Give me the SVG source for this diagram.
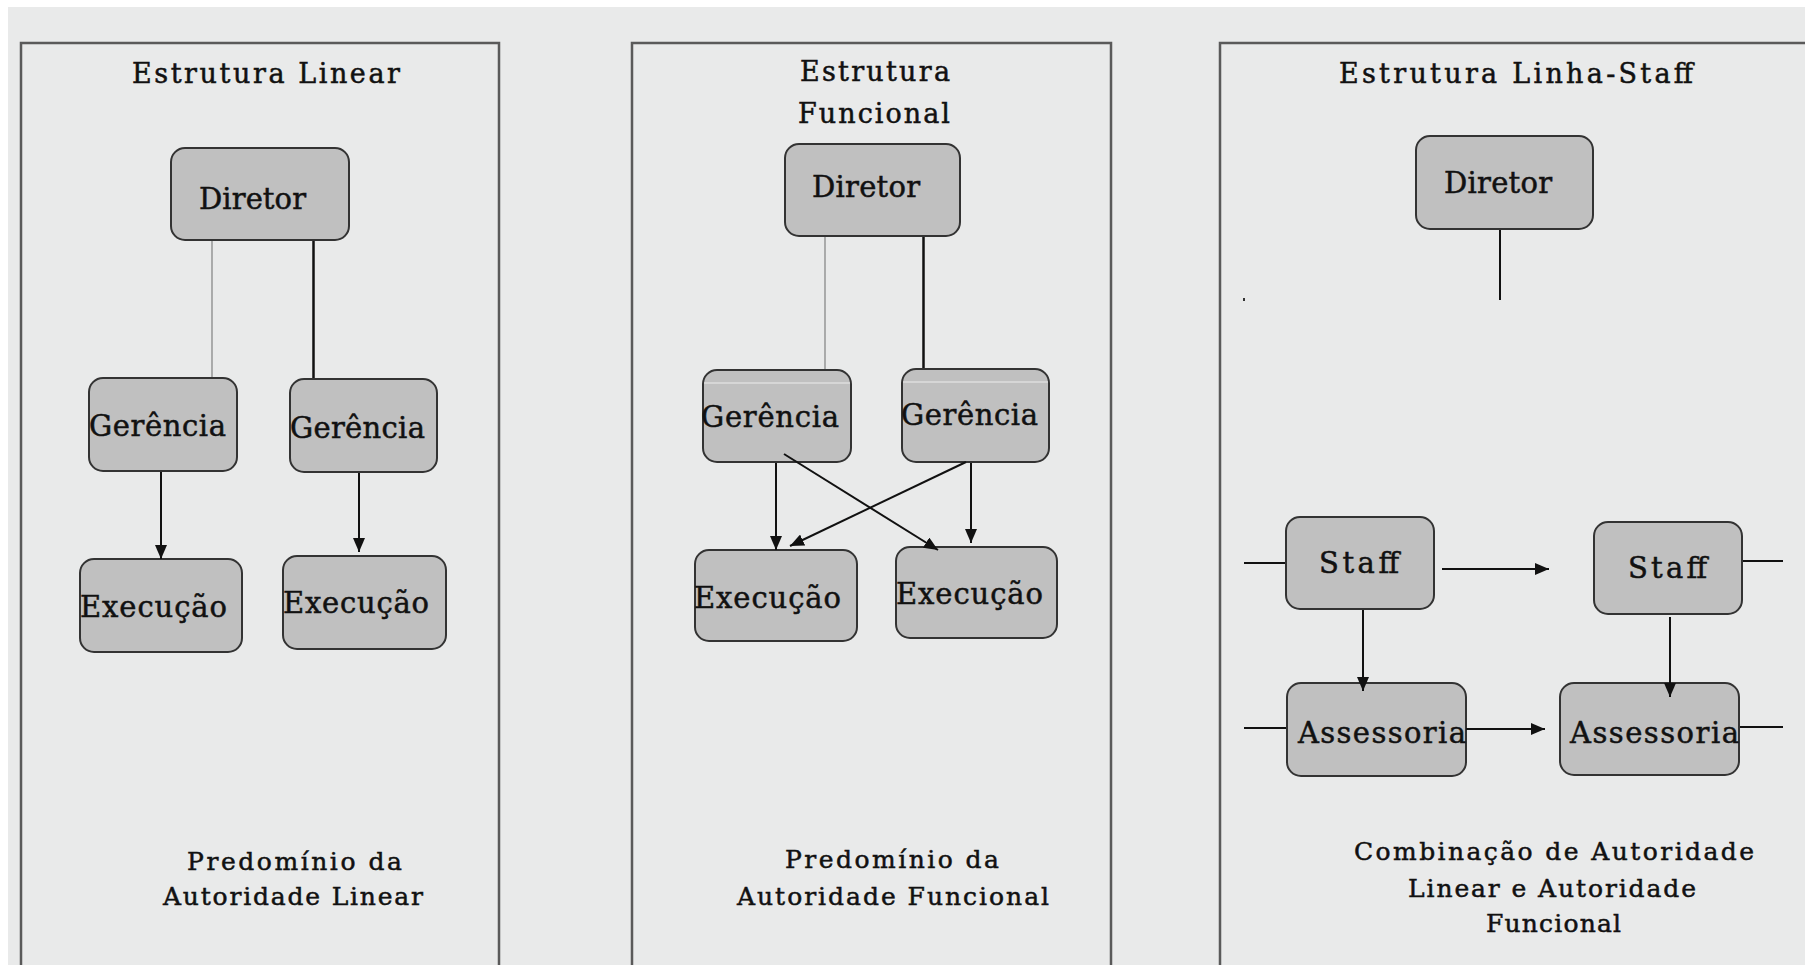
<svg xmlns="http://www.w3.org/2000/svg" width="1805" height="965" viewBox="0 0 1805 965">
<defs>
<marker id="ah" markerUnits="userSpaceOnUse" markerWidth="14" markerHeight="12" refX="14" refY="6" orient="auto">
<path d="M0,0 L14,6 L0,12 z" fill="#111"/>
</marker>
<style>
.frame{fill:none;stroke:#5a5a5a;stroke-width:2.5}
.box{fill:#c0c0c0;stroke:#333;stroke-width:2}
.t{font-family:"DejaVu Serif","Liberation Serif",serif;fill:#111;stroke:#111;stroke-width:0.5}
.title{font-size:27px}
.lab{font-size:29px}
.note{font-size:25px}
.thin{stroke:#888;stroke-width:1.3;fill:none}
.thick{stroke:#111;stroke-width:2.5;fill:none}
.arr{stroke:#111;stroke-width:2;fill:none;marker-end:url(#ah)}
.ln{stroke:#111;stroke-width:2;fill:none}
</style>
</defs>
<rect x="0" y="0" width="1805" height="965" fill="#ffffff"/>
<rect x="8" y="7" width="1797" height="958" fill="#e9eaea"/>

<g id="frames">
<path class="frame" d="M21,970 V43 H499 V970"/>
<path class="frame" d="M632,970 V43 H1111 V970"/>
<path class="frame" d="M1220,970 V43 H1810"/>
<rect x="1243" y="298" width="2" height="3" fill="#333"/>
</g>

<g id="titles">
<text class="t title" x="132" y="83" textLength="268" lengthAdjust="spacing">Estrutura Linear</text>
<text class="t title" x="800" y="81" textLength="150" lengthAdjust="spacing">Estrutura</text>
<text class="t title" x="798" y="123" textLength="152" lengthAdjust="spacing">Funcional</text>
<text class="t title" x="1339" y="83" textLength="354" lengthAdjust="spacing">Estrutura Linha-Staff</text>
</g>

<g id="linear-diretor"><rect class="box" x="171" y="148" width="178" height="92" rx="14"/><text class="t lab" x="199" y="209" textLength="107" lengthAdjust="spacing">Diretor</text></g>
<g id="linear-gerencia-1"><rect class="box" x="89" y="378" width="148" height="93" rx="14"/><text class="t lab" x="89" y="436" textLength="137" lengthAdjust="spacing">Gerência</text></g>
<g id="linear-gerencia-2"><rect class="box" x="290" y="379" width="147" height="93" rx="14"/><text class="t lab" x="290" y="438" textLength="135" lengthAdjust="spacing">Gerência</text></g>
<g id="linear-execucao-1"><rect class="box" x="80" y="559" width="162" height="93" rx="14"/><text class="t lab" x="80" y="617" textLength="147" lengthAdjust="spacing">Execução</text></g>
<g id="linear-execucao-2"><rect class="box" x="283" y="556" width="163" height="93" rx="14"/><text class="t lab" x="283" y="613" textLength="146" lengthAdjust="spacing">Execução</text></g>

<g id="func-diretor"><rect class="box" x="785" y="144" width="175" height="92" rx="14"/><text class="t lab" x="812" y="197" textLength="108" lengthAdjust="spacing">Diretor</text></g>
<g id="func-gerencia-1"><rect class="box" x="703" y="370" width="148" height="92" rx="14"/><line x1="704" y1="383" x2="850" y2="383" stroke="#dedede" stroke-width="1.5"/><text class="t lab" x="701" y="427" textLength="138" lengthAdjust="spacing">Gerência</text></g>
<g id="func-gerencia-2"><rect class="box" x="902" y="369" width="147" height="93" rx="14"/><line x1="903" y1="382" x2="1048" y2="382" stroke="#dedede" stroke-width="1.5"/><text class="t lab" x="901" y="425" textLength="137" lengthAdjust="spacing">Gerência</text></g>
<g id="func-execucao-1"><rect class="box" x="695" y="550" width="162" height="91" rx="14"/><text class="t lab" x="694" y="608" textLength="147" lengthAdjust="spacing">Execução</text></g>
<g id="func-execucao-2"><rect class="box" x="896" y="547" width="161" height="91" rx="14"/><text class="t lab" x="896" y="604" textLength="147" lengthAdjust="spacing">Execução</text></g>

<g id="ls-diretor"><rect class="box" x="1416" y="136" width="177" height="93" rx="14"/><text class="t lab" x="1444" y="193" textLength="108" lengthAdjust="spacing">Diretor</text></g>
<g id="ls-staff-1"><rect class="box" x="1286" y="517" width="148" height="92" rx="14"/><text class="t lab" x="1319" y="573" textLength="80" lengthAdjust="spacing">Staff</text></g>
<g id="ls-staff-2"><rect class="box" x="1594" y="522" width="148" height="92" rx="14"/><text class="t lab" x="1628" y="578" textLength="79" lengthAdjust="spacing">Staff</text></g>
<g id="ls-assessoria-1"><rect class="box" x="1287" y="683" width="179" height="93" rx="14"/><text class="t lab" x="1298" y="743" textLength="168" lengthAdjust="spacing">Assessoria</text></g>
<g id="ls-assessoria-2"><rect class="box" x="1560" y="683" width="179" height="92" rx="14"/><text class="t lab" x="1570" y="743" textLength="169" lengthAdjust="spacing">Assessoria</text></g>

<g id="connectors">
<line class="thin" x1="212" y1="241" x2="212" y2="377"/>
<line class="thick" x1="313.5" y1="241" x2="313.5" y2="378"/>
<line class="arr" x1="161" y1="472" x2="161" y2="559"/>
<line class="arr" x1="359" y1="473" x2="359" y2="552"/>

<line class="thin" x1="825" y1="237" x2="825" y2="369"/>
<line class="thick" x1="923.5" y1="237" x2="923.5" y2="368"/>
<line class="arr" x1="776" y1="463" x2="776" y2="550"/>
<line class="arr" x1="971" y1="463" x2="971" y2="543"/>
<line class="arr" x1="784" y1="454" x2="938" y2="550"/>
<line class="arr" x1="966" y1="462" x2="790" y2="546"/>

<line class="ln" x1="1500" y1="230" x2="1500" y2="300"/>
<line class="ln" x1="1244" y1="563" x2="1285" y2="563"/>
<line class="arr" x1="1442" y1="569" x2="1549" y2="569"/>
<line class="ln" x1="1743" y1="561" x2="1783" y2="561"/>
<line class="arr" x1="1363" y1="610" x2="1363" y2="691"/>
<line class="arr" x1="1670" y1="617" x2="1670" y2="697"/>
<line class="ln" x1="1244" y1="728" x2="1286" y2="728"/>
<line class="arr" x1="1466" y1="729" x2="1545" y2="729"/>
<line class="ln" x1="1740" y1="727" x2="1783" y2="727"/>
</g>

<g id="notes">
<text class="t note" x="187" y="870" textLength="215" lengthAdjust="spacing">Predomínio da</text>
<text class="t note" x="163" y="905" textLength="260" lengthAdjust="spacing">Autoridade Linear</text>
<text class="t note" x="785" y="868" textLength="214" lengthAdjust="spacing">Predomínio da</text>
<text class="t note" x="737" y="905" textLength="312" lengthAdjust="spacing">Autoridade Funcional</text>
<text class="t note" x="1354" y="860" textLength="400" lengthAdjust="spacing">Combinação de Autoridade</text>
<text class="t note" x="1408" y="897" textLength="288" lengthAdjust="spacing">Linear e Autoridade</text>
<text class="t note" x="1486" y="932" textLength="135" lengthAdjust="spacing">Funcional</text>
</g>
</svg>
